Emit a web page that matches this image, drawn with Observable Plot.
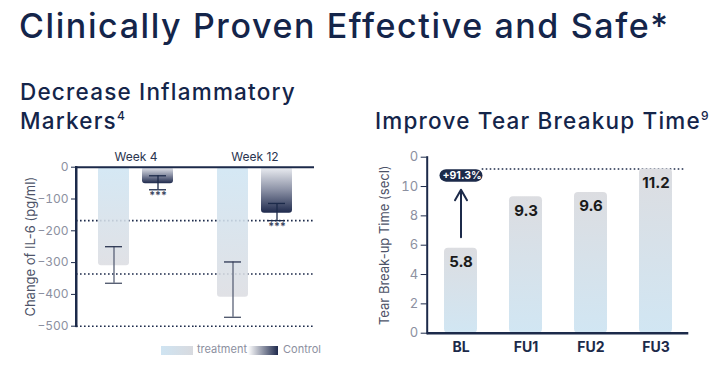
<!DOCTYPE html>
<html><head><meta charset="utf-8">
<script src="https://cdn.jsdelivr.net/npm/d3@7"></script>
<script src="https://cdn.jsdelivr.net/npm/@observablehq/plot@0.6"></script>
<style>
body{margin:0;width:727px;height:388px;position:relative;background:#fff;font-family:Inter,"Noto Sans",sans-serif;color:#14254a;overflow:hidden}
.h1{position:absolute;left:19px;top:9px;font-size:34px;line-height:34px;font-weight:500;letter-spacing:1.6px;white-space:nowrap}
.h2{position:absolute;font-size:22.5px;font-weight:500;line-height:29px;letter-spacing:1.2px;white-space:nowrap}
.h2 sup{font-size:12px;vertical-align:9px;line-height:0;letter-spacing:0}
#left{position:absolute;left:0;top:140px;width:340px;height:230px}
#right{position:absolute;left:360px;top:140px;width:367px;height:230px}
.lg{position:absolute;top:346px;height:9px}
.lt{position:absolute;top:342px;font-size:11px;color:#8c90a0}
#yline{position:absolute;width:2px;background:#1c2a4a;z-index:5}
</style></head><body>
<div class="h1">Clinically Proven Effective and Safe*</div>
<div class="h2" style="left:20px;top:77px">Decrease Inflammatory<br>Markers<sup>4</sup></div>
<div class="h2" style="left:375px;top:106px">Improve Tear Breakup Time<sup>9</sup></div>
<div id="left"></div>
<div id="right"></div>
<div class="lg" style="left:161px;width:32px;background:linear-gradient(to right,#cfe4f2,#d8dadf)"></div>
<div class="lt" style="left:197px">treatment</div>
<div class="lg" style="left:248px;width:30px;background:linear-gradient(to right,#ffffff,#1f2a4d)"></div>
<div class="lt" style="left:283px">Control</div>
<div id="yline"></div>
<script>
// ---- Left chart data: change of IL-6 (pg/ml)
const il6Week  = ["Week 4","Week 4","Week 12","Week 12"];
const il6Group = ["treatment","Control","treatment","Control"];
const il6Mean  = [-310,-52,-409,-145];
const il6Lo    = [-365,-71,-472,-168];
const il6Hi    = [-250,-27,-298,-114];
const il6Sig   = ["","***","","***"];
const il6Ref   = [-168,-336,-500];
const il6Ticks = [0,-100,-200,-300,-400,-500];
const weeks  = ["Week 4","Week 12"];
const groups = ["treatment","Control"];
const il6Label = "Change of IL-6 (pg/ml)";

// ---- Right chart data: tear break-up time (sec)
const tbutVisit = ["BL","FU1","FU2","FU3"];
const tbutValue = [5.8,9.3,9.6,11.2];
const tbutTicks = [0,2,4,6,8,10,12];
const tbutTickLabels = ["0","2","4","6","8","10","0"];
const tbutGain = "+91.3%";
const tbutArrow = [6.55, 9.78];
const tbutBadge = [10.3, 11.14, 10.72];
const tbutLabel = "Tear Break-up Time (secl)";

const navy = "#1c2a4a", gray = "#8c90a0";
const il6 = il6Week.map((w,i)=>({week:w, group:il6Group[i], mean:il6Mean[i], lo:il6Lo[i], hi:il6Hi[i], sig:il6Sig[i]}));
const isT = d => d.group === "treatment";
const leftMarginL = 76, leftTop = 140;

const left = Plot.plot({
  width: 340, height: 230,
  marginLeft: leftMarginL, marginRight: 26, marginTop: 26.7, marginBottom: 44.3,
  style: {fontFamily: "Inter, sans-serif"},
  fx: {domain: weeks, padding: 0},
  x: {domain: groups, paddingInner: 0.29, paddingOuter: 0.48, axis: null},
  y: {domain: [-500, 0], axis: null},
  marks: [
    Plot.ruleY(il6Ref, {stroke: navy, strokeWidth: 1.6, strokeDasharray: "1.6,2.4"}),
    Plot.barY(il6, {filter: isT, fx: "week", x: "group", y: "mean", fill: "url(#gT)", fillOpacity: 0.88, rx: 3}),
    Plot.barY(il6, {filter: d => !isT(d), fx: "week", x: "group", y: "mean", fill: "url(#gC)", rx: 3}),
    Plot.ruleY([0], {stroke: navy, strokeWidth: 2}),
    Plot.ruleX(il6, {filter: isT, fx: "week", x: "group", y1: "lo", y2: "hi", stroke: "#5a6277", strokeWidth: 1.3}),
    Plot.tickY(il6, {filter: isT, fx: "week", x: "group", y: "lo", stroke: "#4a5268", strokeWidth: 1.3, insetLeft: 7, insetRight: 7}),
    Plot.tickY(il6, {filter: isT, fx: "week", x: "group", y: "hi", stroke: "#2c3652", strokeWidth: 1.3, insetLeft: 7, insetRight: 7}),
    Plot.ruleX(il6, {filter: d => !isT(d), fx: "week", x: "group", y1: "lo", y2: "hi", stroke: navy, strokeWidth: 1.3}),
    Plot.tickY(il6, {filter: d => !isT(d), fx: "week", x: "group", y: "lo", stroke: navy, strokeWidth: 1.3, insetLeft: 7, insetRight: 7}),
    Plot.tickY(il6, {filter: d => !isT(d), fx: "week", x: "group", y: "hi", stroke: navy, strokeWidth: 1.3, insetLeft: 7, insetRight: 7}),
    Plot.text(il6, {filter: d => d.sig, fx: "week", x: "group", y: "lo", text: "sig", dy: 2, lineAnchor: "top", fontSize: 10.5, fontWeight: 700, fill: "#3a4560"}),
    Plot.axisFx({anchor: "top", tickSize: 0, tickPadding: 6, fontSize: 12, fill: "#2a3550", label: null}),
    Plot.axisY({ticks: il6Ticks, tickSize: 5, tickPadding: 3, fontSize: 12, fill: gray, stroke: navy, label: null}),
    Plot.frame({anchor: "left", stroke: navy, strokeWidth: 2, facetAnchor: "left"}),
    Plot.text([il6Label], {facetAnchor: "left", frameAnchor: "left", textAnchor: "middle", rotate: -90, dx: -46, fontSize: 13, fill: "#4d5368"})
  ]
});

const tbut = tbutVisit.map((v,i)=>({visit:v, value:tbutValue[i]}));
const right = Plot.plot({
  width: 367, height: 230,
  marginLeft: 66.7, marginRight: 38.7, marginTop: 16.7, marginBottom: 37.3,
  style: {fontFamily: "Inter, sans-serif"},
  x: {domain: tbutVisit, paddingInner: 0.5, paddingOuter: 0.25, axis: null},
  y: {domain: [0, 12], axis: null},
  marks: [
    Plot.ruleY([tbutValue[3]], {stroke: navy, strokeWidth: 1.6, strokeDasharray: "1.6,2.4", insetLeft: 55, insetRight: 3}),
    Plot.barY(tbut, {x: "visit", y: "value", fill: "url(#gB)", rx: 4}),
    Plot.text(tbut, {x: "visit", y: "value", text: d => d.value.toFixed(1), dy: 14, fontSize: 15, fontWeight: 700, fill: "#1a1a1a"}),
    Plot.barY([tbutGain], {x: () => tbutVisit[0], y1: () => tbutBadge[0], y2: () => tbutBadge[1], fill: navy, rx: 6.5, insetLeft: -4.5, insetRight: -5.5}),
    Plot.text([tbutGain], {x: () => tbutVisit[0], y: () => tbutBadge[2], text: d => d, fill: "#fff", fontSize: 10.5, fontWeight: 700, dx: 1}),
    Plot.arrow([tbutArrow], {x1: () => tbutVisit[0], x2: () => tbutVisit[0], y1: d => d[0], y2: d => d[1], stroke: navy, strokeWidth: 2, headLength: 9, bend: 0}),
    Plot.axisY({ticks: tbutTicks, tickFormat: d => tbutTickLabels[tbutTicks.indexOf(d)], tickSize: 6, tickPadding: 3, fontSize: 13, fill: gray, stroke: navy, label: null}),
    Plot.axisX({tickSize: 0, tickPadding: 9, fontSize: 14, fontWeight: 700, fill: navy, label: null}),
    Plot.ruleY([0], {stroke: navy, strokeWidth: 2.5}),
    Plot.frame({anchor: "left", stroke: navy, strokeWidth: 2}),
    Plot.text([tbutLabel], {frameAnchor: "left", textAnchor: "middle", rotate: -90, dx: -42, fontSize: 13, fill: "#4d5368"})
  ]
});

function addGrad(svg, id, x2, y2, stops){
  let defs = d3.select(svg).select("defs");
  if (defs.empty()) defs = d3.select(svg).insert("defs", ":first-child");
  const g = defs.append("linearGradient").attr("id", id).attr("x1",0).attr("y1",0).attr("x2",x2).attr("y2",y2);
  stops.forEach(([o,c]) => g.append("stop").attr("offset", o).attr("stop-color", c));
}
addGrad(left, "gT", 0, 1, [[0,"#cfe5f3"],[1,"#dcdde2"]]);
addGrad(left, "gC", 0, 1, [[0,"#eef0f4"],[0.5,"#8c92a6"],[1,"#1f2a4d"]]);
addGrad(right, "gB", 0, 1, [[0,"#dcdde1"],[1,"#d1e6f3"]]);
document.getElementById("left").append(left);
document.getElementById("right").append(right);
// left axis line, placed with the plot's own y scale
{
  const ys = left.scale("y");
  const yTop = ys.apply(ys.domain[1]), yBot = ys.apply(ys.domain[0]);
  const el = document.getElementById("yline");
  el.style.left = (leftMarginL - 1) + "px";
  el.style.top = (leftTop + yTop - 1) + "px";
  el.style.height = (yBot - yTop + 2) + "px";
}
</script>
</body></html>
